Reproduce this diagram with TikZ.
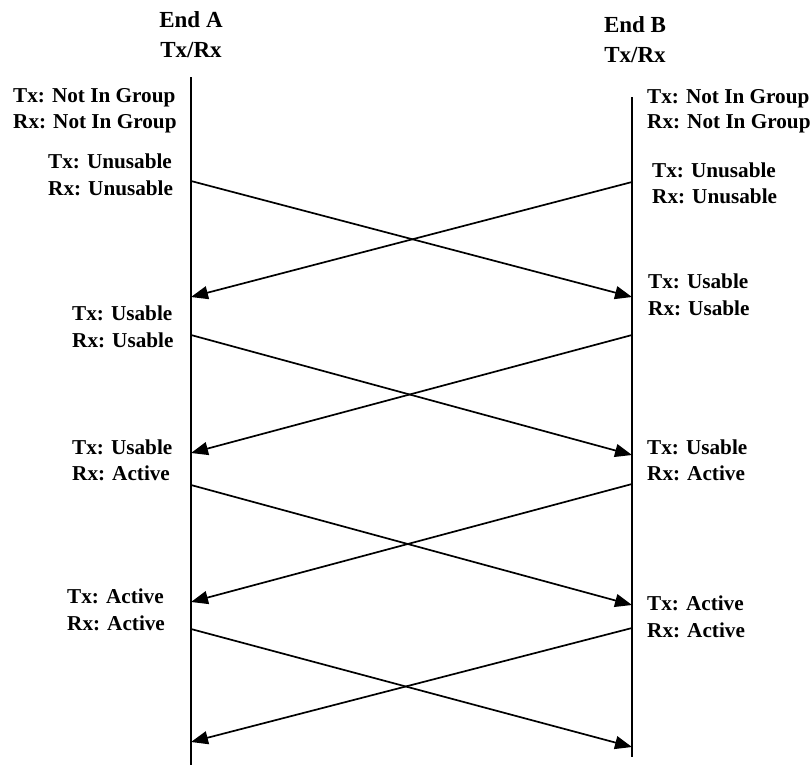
\documentclass[tikz,border=0pt]{standalone}
\usepackage{fontspec}
\setmainfont{Liberation Serif}
\usetikzlibrary{arrows.meta}
\begin{document}
\begin{tikzpicture}[x=1pt,y=-1pt,
  lbl/.style={font=\fontsize{21.2}{24}\selectfont\bfseries, inner sep=0pt, anchor=base west},
  head/.style={font=\fontsize{23}{26}\selectfont\bfseries, inner sep=0pt, anchor=base},
  life/.style={line width=1.9pt},
  msg/.style={line width=1.7pt, -{Triangle[length=17pt,width=13pt]}}]
\useasboundingbox (0,0) rectangle (810,771);
% headings
\node[head] (ha1) at (191,27) {End A};
\node[head] (ha2) at (191,57) {Tx/Rx};
\node[head] (hb1) at (635,32) {End B};
\node[head] (hb2) at (635,62) {Tx/Rx};
% lifelines
\coordinate (atop) at (191,77);
\coordinate (abot) at (191,765);
\coordinate (btop) at (632,97);
\coordinate (bbot) at (632,757);
\draw[life] (atop) -- (abot);
\draw[life] (btop) -- (bbot);
% left labels
\node[lbl] (la1) at (13,102) {Tx: Not In Group};
\node[lbl] (la2) at (13,128) {Rx: Not In Group};
\node[lbl] (la3) at (48,168) {Tx: Unusable};
\node[lbl] (la4) at (48,195) {Rx: Unusable};
\node[lbl] (la5) at (72,320) {Tx: Usable};
\node[lbl] (la6) at (72,347) {Rx: Usable};
\node[lbl] (la7) at (72,454) {Tx: Usable};
\node[lbl] (la8) at (72,480) {Rx: Active};
\node[lbl] (la9) at (67,603) {Tx: Active};
\node[lbl] (la10) at (67,630) {Rx: Active};
% right labels
\node[lbl] (lb1) at (647,103) {Tx: Not In Group};
\node[lbl] (lb2) at (647,128) {Rx: Not In Group};
\node[lbl] (lb3) at (652,177) {Tx: Unusable};
\node[lbl] (lb4) at (652,203) {Rx: Unusable};
\node[lbl] (lb5) at (648,288) {Tx: Usable};
\node[lbl] (lb6) at (648,315) {Rx: Usable};
\node[lbl] (lb7) at (647,454) {Tx: Usable};
\node[lbl] (lb8) at (647,480) {Rx: Active};
\node[lbl] (lb9) at (647,610) {Tx: Active};
\node[lbl] (lb10) at (647,637) {Rx: Active};
% message endpoints
\coordinate (a1) at (191,181);  \coordinate (b1) at (632,297);
\coordinate (b2) at (632,182);  \coordinate (a2) at (191,297);
\coordinate (a3) at (191,335);  \coordinate (b3) at (632,455);
\coordinate (b4) at (632,335);  \coordinate (a4) at (191,453);
\coordinate (a5) at (191,485);  \coordinate (b5) at (632,605);
\coordinate (b6) at (632,484);  \coordinate (a6) at (191,602);
\coordinate (a7) at (191,629);  \coordinate (b7) at (632,747);
\coordinate (b8) at (632,628);  \coordinate (a8) at (191,742);
\draw[msg] (a1) -- (b1);
\draw[msg] (b2) -- (a2);
\draw[msg] (a3) -- (b3);
\draw[msg] (b4) -- (a4);
\draw[msg] (a5) -- (b5);
\draw[msg] (b6) -- (a6);
\draw[msg] (a7) -- (b7);
\draw[msg] (b8) -- (a8);
\end{tikzpicture}
\end{document}
